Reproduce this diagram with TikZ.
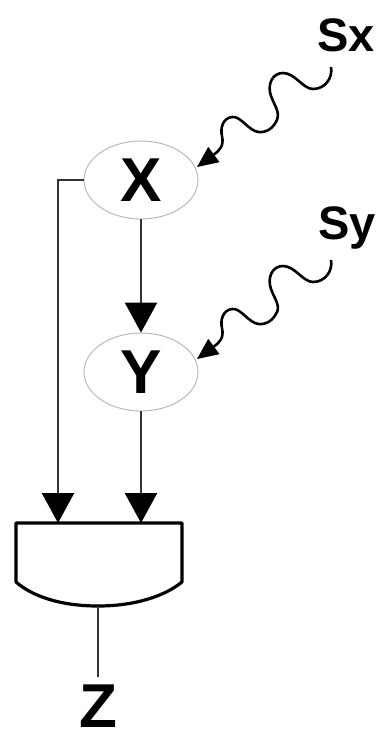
\documentclass[tikz,border=0pt]{standalone}
\usepackage{fontspec}
\setmainfont{Liberation Sans}
\usetikzlibrary{arrows.meta,shapes.geometric}
\tikzset{
  var/.style={draw=black!30,line width=0.9pt,ellipse,minimum width=114pt,minimum height=78pt,inner sep=0pt,font=\bfseries\fontsize{62}{62}\selectfont},
  lab/.style={font=\bfseries\fontsize{47}{47}\selectfont,inner sep=0pt},
  zlab/.style={font=\bfseries\fontsize{62}{62}\selectfont,inner sep=0pt},
  wire/.style={draw=black!80,line width=2.6pt},
  arr/.style={wire,-{Triangle[length=30pt,width=32pt,black]}},
  squig/.style={draw=black,line width=2.6pt,-{Triangle[length=21pt,width=19pt,black,line width=0pt]}}
}
\begin{document}
\begin{tikzpicture}[x=1pt,y=-1pt]
\useasboundingbox (0,0) rectangle (381,742);
\node[var] (x) at (141,180) {X};
\node[var] (y) at (141,372) {Y};
\node[lab] (sx) at (346,35) {Sx};
\node[lab] (sy) at (347,228) {Sy};
\node[zlab] (z) at (98,706) {Z};
\coordinate (sxs) at (331,67);
\coordinate (sys) at (331,260);
\coordinate (xe) at (197,167);
\coordinate (ye) at (197,359);
\coordinate (a1) at (58,523);
\coordinate (a2) at (141,523);
\coordinate (gb) at (98,606);
\coordinate (zt) at (98,677);
\draw[draw=black,line width=3.2pt,line join=round]
  (16,523) -- (182,523) -- (182,582)
  .. controls (165,596) and (135,606) .. (98,606)
  .. controls (60,606) and (32,596) .. (16,582) -- cycle;
\draw[arr] (x.south) -- (y.north);
\draw[arr] (y.south) -- (a2);
\draw[arr] (x.west) -| (a1);
\draw[wire] (gb) -- (zt);
\draw[squig] (sxs) .. controls (333,78) and (325,89) .. (313,89)
  .. controls (303,89) and (295,73) .. (283,73)
  .. controls (272,73) and (267,85) .. (271,96)
  .. controls (275,107) and (281,113) .. (276,122)
  .. controls (271,131) and (262,134) .. (255,131)
  .. controls (246,127) and (240,116) .. (232,117)
  .. controls (223,118) and (220,128) .. (222,136)
  .. controls (224,146) and (220,150) .. (xe);
\draw[squig] (sys) .. controls (333,271) and (325,282) .. (313,282)
  .. controls (303,282) and (295,266) .. (283,266)
  .. controls (272,266) and (267,278) .. (271,289)
  .. controls (275,300) and (281,306) .. (276,314)
  .. controls (271,323) and (262,326) .. (255,323)
  .. controls (246,319) and (240,308) .. (232,309)
  .. controls (223,310) and (220,320) .. (222,328)
  .. controls (224,338) and (220,342) .. (ye);
\end{tikzpicture}
\end{document}
